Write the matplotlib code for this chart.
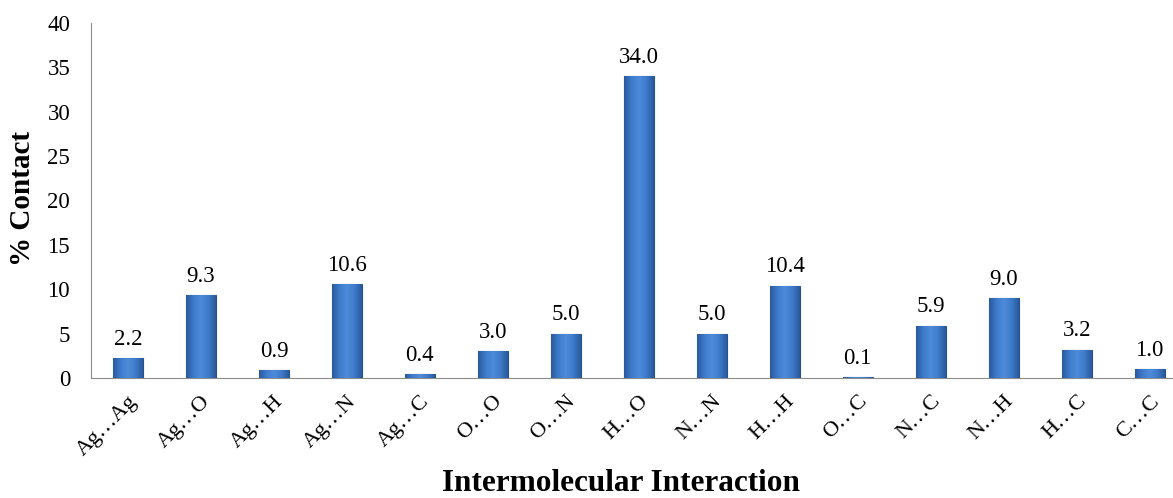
import matplotlib.pyplot as plt
import numpy as np
from matplotlib.colors import LinearSegmentedColormap

plt.rcParams['font.family'] = ['Liberation Serif', 'DejaVu Serif']

labels = ['Ag…Ag', 'Ag…O', 'Ag…H', 'Ag…N', 'Ag…C', 'O…O', 'O…N', 'H…O',
          'N…N', 'H…H', 'O…C', 'N…C', 'N…H', 'H…C', 'C…C']
values = [2.2, 9.3, 0.9, 10.6, 0.4, 3.0, 5.0, 34.0, 5.0, 10.4, 0.1, 5.9, 9.0, 3.2, 1.0]

fig = plt.figure(figsize=(11.73, 4.98), dpi=100)
ax = fig.add_axes([91 / 1173, 1 - 378 / 498, 1082 / 1173, 355 / 498])

x = np.arange(len(labels))
bars = ax.bar(x, values, width=0.41, color='#3A74C4', edgecolor='#24528F', linewidth=0.8, zorder=2)

# bevel-like shading across each bar
cmap = LinearSegmentedColormap.from_list('bev', ['#2B5A9C', '#3E7BCB', '#4E8CDB', '#3E7BCB', '#2B5A9C'])
grad = np.linspace(0, 1, 64).reshape(1, -1)
for b in bars:
    x0, w, h = b.get_x(), b.get_width(), b.get_height()
    im = ax.imshow(grad, cmap=cmap, aspect='auto', extent=(x0, x0 + w, 0, h), zorder=3)
    im.set_clip_path(b)

for xi, v in zip(x, values):
    ax.annotate(f'{v:.1f}', (xi, v), xytext=(0, 6), textcoords='offset points',
                ha='center', va='bottom', fontsize=16.5)

ax.set_xlim(-0.507, 14.32)
ax.set_ylim(0, 40)
ax.set_yticks(range(0, 41, 5))
ax.set_xticks(x)
ax.set_xticklabels(labels, rotation=45, ha='right', rotation_mode='anchor', fontsize=16)
ax.tick_params(axis='both', length=0)
ax.tick_params(axis='y', pad=15, labelsize=16.5)
ax.tick_params(axis='x', pad=10)

for s in ['top', 'right']:
    ax.spines[s].set_visible(False)
for s in ['left', 'bottom']:
    ax.spines[s].set_color('#8c8c8c')

fig.text(23 / 1173, 0.602, '% Contact', fontsize=21, fontweight='bold', rotation=90,
         ha='center', va='center')
fig.text(0.529, 0.03, 'Intermolecular Interaction', fontsize=22.5, fontweight='bold',
         ha='center', va='center')

fig.savefig('out.png', dpi=100)
